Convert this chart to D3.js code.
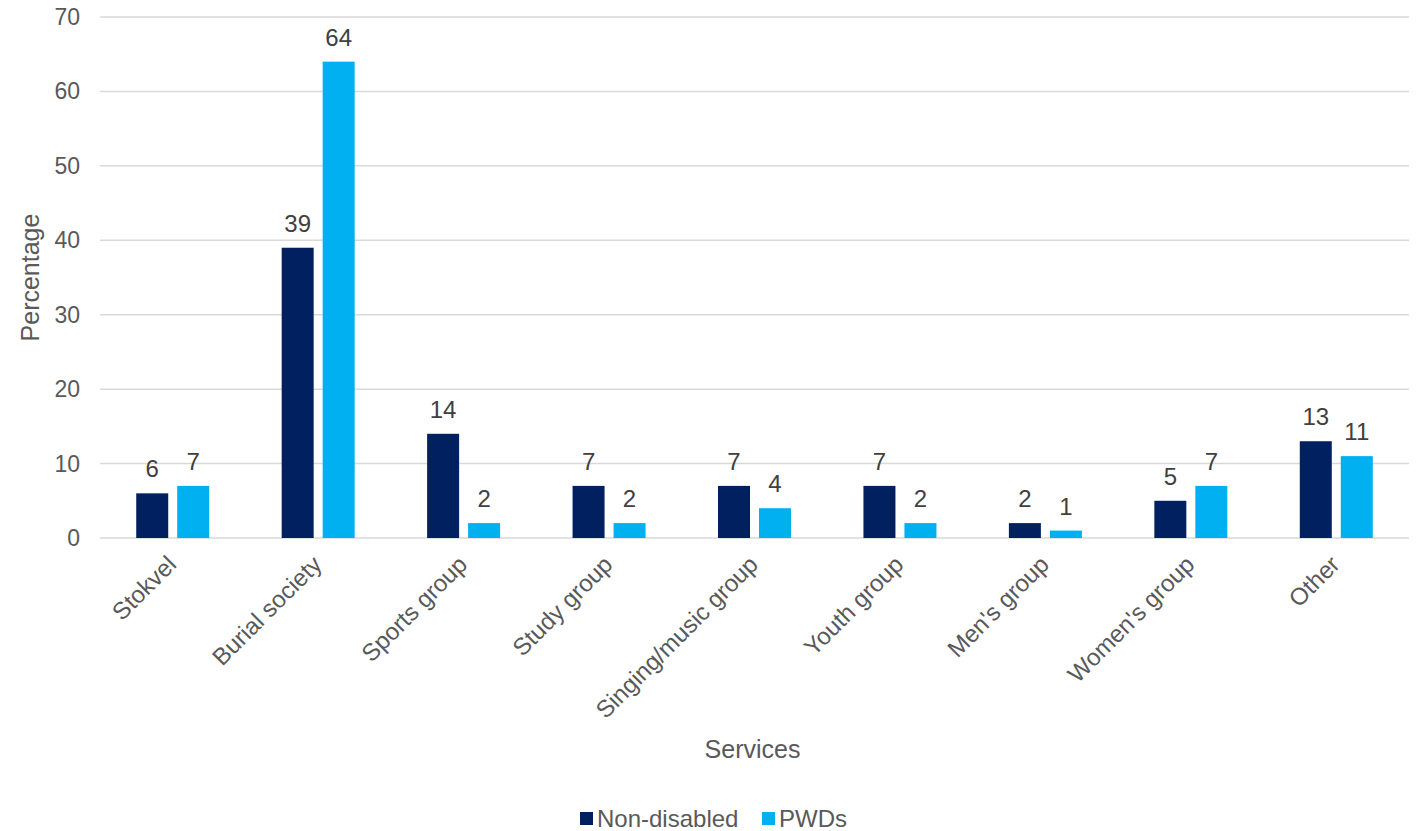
<!DOCTYPE html>
<html><head><meta charset="utf-8">
<script src="https://cdn.jsdelivr.net/npm/d3@7"></script>
<style>body{margin:0;background:#fff;} text{font-family:"Liberation Sans",Arial,sans-serif;}</style>
</head><body>
<svg id="c" width="1417" height="831"></svg>
<script>
const categories = ["Stokvel","Burial society","Sports group","Study group","Singing/music group","Youth group","Men's group","Women's group","Other"];
const nonDisabled = [6,39,14,7,7,7,2,5,13];
const pwds = [7,64,2,2,4,2,1,7,11];
const seriesNames = ["Non-disabled","PWDs"];
const colors = ["#002060","#00B0F0"];
const yTicks = [0,10,20,30,40,50,60,70];

const svg = d3.select("#c");
const L=100, R=1409, T=17, B=538;
const x = d3.scaleBand().domain(categories).range([L,R]).padding(0);
const y = d3.scaleLinear().domain([0,70]).range([B,T]);
const bw = x.bandwidth()*0.22, off = bw/2 + 4.5;

// gridlines
svg.append("g").selectAll("line").data(yTicks).join("line")
  .attr("x1",L).attr("x2",R).attr("y1",d=>y(d)).attr("y2",d=>y(d))
  .attr("stroke","#d9d9d9").attr("stroke-width",1.5);

// y labels
svg.append("g").selectAll("text").data(yTicks).join("text")
  .attr("x",80).attr("y",d=>y(d)+8).attr("text-anchor","end")
  .attr("font-size",23).attr("fill","#595959").text(d=>d);

const series = [nonDisabled,pwds];
series.forEach((vals,si)=>{
  const g = svg.append("g");
  const cx = (c)=> x(c)+x.bandwidth()/2 + (si===0?-off:off);
  g.selectAll("rect").data(categories).join("rect")
    .attr("x",c=>cx(c)-bw/2).attr("width",bw)
    .attr("y",(c,i)=>y(vals[i])).attr("height",(c,i)=>B-y(vals[i]))
    .attr("fill",colors[si]);
  g.selectAll("text").data(categories).join("text")
    .attr("x",c=>cx(c)).attr("y",(c,i)=>y(vals[i])-16)
    .attr("text-anchor","middle").attr("font-size",24).attr("fill","#404040")
    .text((c,i)=>vals[i]);
});

// x labels
svg.append("g").selectAll("text").data(categories).join("text")
  .attr("transform",c=>`translate(${x(c)+x.bandwidth()/2+5},${B+28}) rotate(-45)`)
  .attr("text-anchor","end").attr("font-size",24).attr("fill","#595959").text(c=>c);

// axis titles
svg.append("text").attr("transform",`translate(39,${(T+B)/2}) rotate(-90)`)
  .attr("text-anchor","middle").attr("font-size",25).attr("fill","#595959").text("Percentage");
svg.append("text").attr("x",(L+R)/2-2).attr("y",758)
  .attr("text-anchor","middle").attr("font-size",25).attr("fill","#595959").text("Services");

// legend
const lg = svg.append("g");
const lx = [580,762];
seriesNames.forEach((n,i)=>{
  lg.append("rect").attr("x",lx[i]).attr("y",812).attr("width",13).attr("height",13).attr("fill",colors[i]);
  lg.append("text").attr("x",lx[i]+17).attr("y",827).attr("font-size",24).attr("fill","#595959").text(n);
});
</script>
</body></html>
